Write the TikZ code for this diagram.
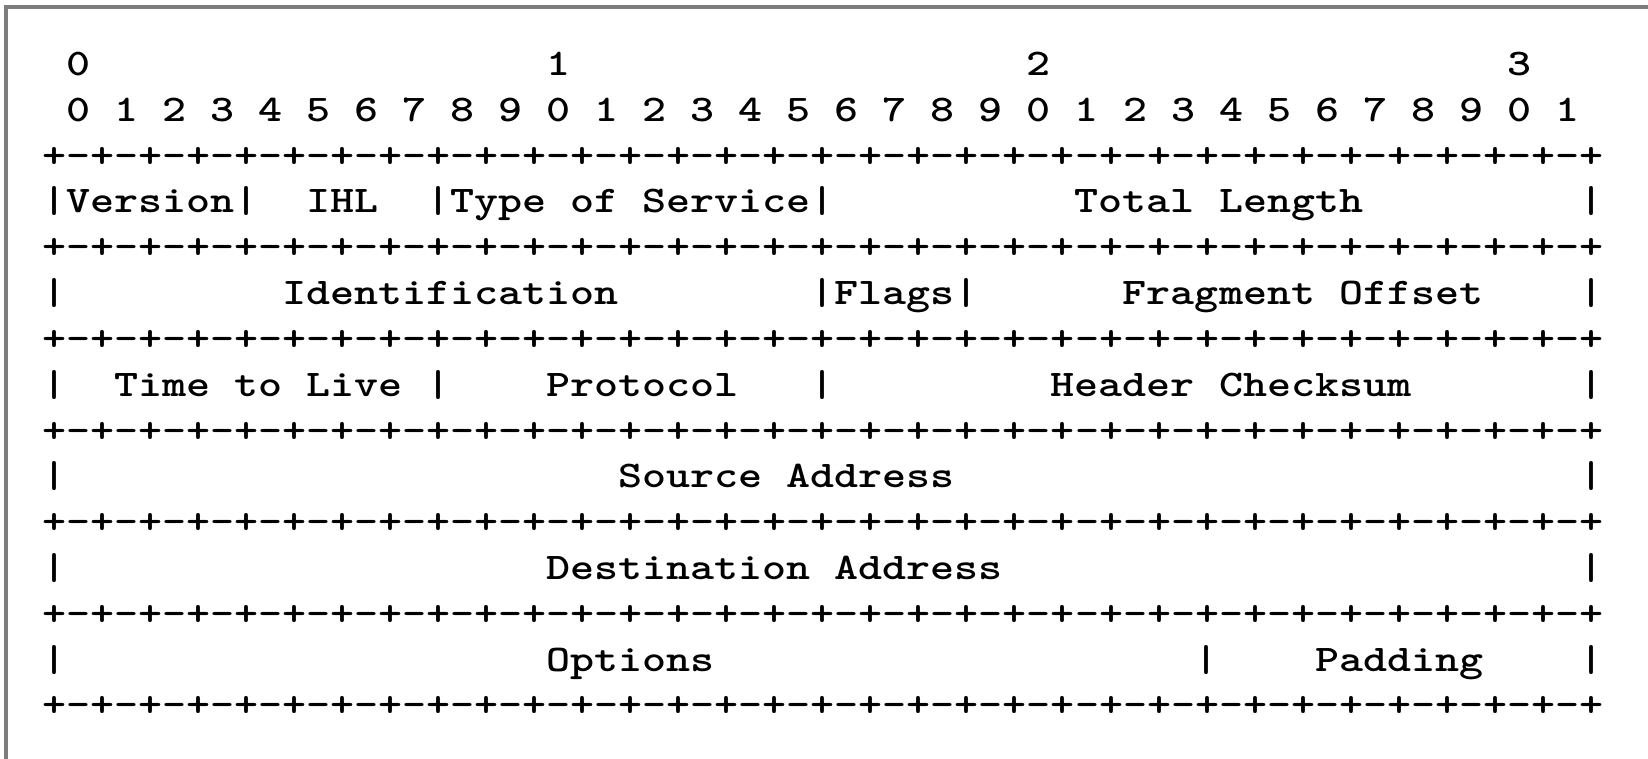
\documentclass[tikz,border=0pt]{standalone}
\usepackage{graphicx}
\newcommand\monofont{\ttfamily\bfseries\fontsize{18.8}{20}\selectfont}
\newcommand\Sx[1]{\scalebox{1.217}[1]{#1}}
\newcommand\Txt[4]{\node[txt] (#1) at ({42+24.02*(#2)},{75.6+45.8*(#3)}) {\Sx{#4}};}
\newcommand\dashgroup{+-+-+-+-}
\newcommand\dashrow{\dashgroup\dashgroup\dashgroup\dashgroup\dashgroup\dashgroup\dashgroup\dashgroup+}
\definecolor{framegray}{RGB}{125,125,125}
\begin{document}
\begin{tikzpicture}[x=0.5pt,y=-0.5pt,
  txt/.style={anchor=base west,inner sep=0pt,outer sep=0pt,font=\monofont,text=black}]
\useasboundingbox (0,0) rectangle (1648,759);
\fill[white] (0,0) rectangle (1648,759);
\draw[line width=1.6pt, framegray] (6,759) -- (6,7) -- (1648,7);
% header numbers
\Txt{h0}{1}{0}{0}
\Txt{h1}{21}{0}{1}
\Txt{h2}{41}{0}{2}
\Txt{h3}{61}{0}{3}
\Txt{bits}{1}{1}{0 1 2 3 4 5 6 7 8 9 0 1 2 3 4 5 6 7 8 9 0 1 2 3 4 5 6 7 8 9 0 1}
% separator rows
\Txt{r2}{0}{2}{\dashrow}
\Txt{r4}{0}{4}{\dashrow}
\Txt{r6}{0}{6}{\dashrow}
\Txt{r8}{0}{8}{\dashrow}
\Txt{r10}{0}{10}{\dashrow}
\Txt{r12}{0}{12}{\dashrow}
\Txt{r14}{0}{14}{\dashrow}
% row 3
\Txt{ver}{0}{3}{|Version|}
\Txt{ihl}{11}{3}{IHL}
\Txt{tos}{16}{3}{|Type of Service|}
\Txt{tl}{43}{3}{Total Length}
\Txt{e3}{64}{3}{|}
% row 5
\Txt{b5}{0}{5}{|}
\Txt{id}{10}{5}{Identification}
\Txt{fl}{32}{5}{|Flags|}
\Txt{fo}{45}{5}{Fragment Offset}
\Txt{e5}{64}{5}{|}
% row 7
\Txt{b7}{0}{7}{|}
\Txt{ttl}{3}{7}{Time to Live}
\Txt{s7a}{16}{7}{|}
\Txt{pr}{21}{7}{Protocol}
\Txt{s7b}{32}{7}{|}
\Txt{hc}{42}{7}{Header Checksum}
\Txt{e7}{64}{7}{|}
% row 9
\Txt{b9}{0}{9}{|}
\Txt{sa}{24}{9}{Source Address}
\Txt{e9}{64}{9}{|}
% row 11
\Txt{b11}{0}{11}{|}
\Txt{da}{21}{11}{Destination Address}
\Txt{e11}{64}{11}{|}
% row 13
\Txt{b13}{0}{13}{|}
\Txt{op}{21}{13}{Options}
\Txt{s13}{48}{13}{|}
\Txt{pd}{53}{13}{Padding}
\Txt{e13}{64}{13}{|}
\end{tikzpicture}
\end{document}
